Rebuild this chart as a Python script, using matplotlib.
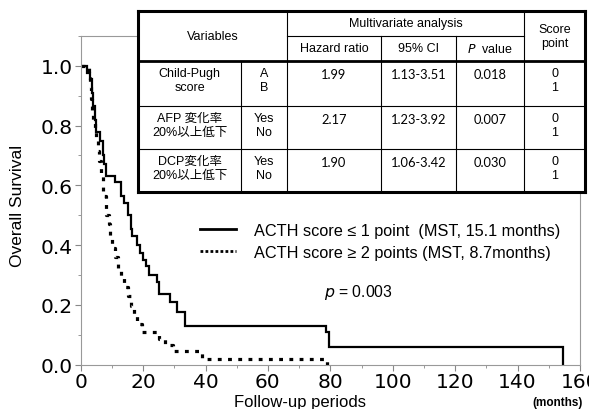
import numpy as np
import matplotlib
matplotlib.use("Agg")
import matplotlib.pyplot as plt
from matplotlib.lines import Line2D
from matplotlib.ticker import MultipleLocator

# Kaplan-Meier steps, ACTH score <= 1 point
low_times = [0, 2.0, 3.0, 3.5, 4.0, 4.5, 5.0, 6.3, 7.0, 7.5, 8.0, 11.0, 13.0, 14.0,
             15.0, 16.0, 16.5, 18.0, 19.0, 20.0, 21.0, 22.0, 24.3, 25.0, 28.6,
             30.8, 33.4, 78.5, 79.5, 154.5]
low_surv = [1.0, 0.977, 0.955, 0.91, 0.865, 0.82, 0.78, 0.75, 0.70, 0.67, 0.63,
            0.61, 0.565, 0.54, 0.50, 0.455, 0.43, 0.40, 0.375, 0.35, 0.33, 0.30,
            0.275, 0.237, 0.21, 0.175, 0.13, 0.11, 0.06, 0.0]

# Kaplan-Meier steps, ACTH score >= 2 points
high_times = [0, 2.5, 3.0, 3.3, 3.7, 4.0, 4.6, 5.0, 5.5, 6.0, 6.5, 7.0, 8.0, 9.0,
              9.5, 10.0, 11.0, 12.0, 12.8, 13.8, 15.0, 16.0, 17.0, 18.0, 19.5,
              25.0, 27.0, 29.5, 39.0, 79.0]
high_surv = [1.0, 0.96, 0.93, 0.89, 0.85, 0.815, 0.78, 0.75, 0.715, 0.68, 0.64,
             0.565, 0.50, 0.47, 0.425, 0.39, 0.36, 0.325, 0.29, 0.26, 0.23, 0.195,
             0.17, 0.135, 0.11, 0.085, 0.065, 0.045, 0.02, 0.0]

legend_labels = ["ACTH score \u2264 1 point  (MST, 15.1 months)",
                 "ACTH score \u2265 2 points (MST, 8.7months)"]

# table contents
row_vars = ["Child-Pugh\nscore", "AFP 変化率\n20%以上低下", "DCP変化率\n20%以上低下"]
row_levels = ["A\nB", "Yes\nNo", "Yes\nNo"]
hazard = ["1.99", "2.17", "1.90"]
ci95 = ["1.13-3.51", "1.23-3.92", "1.06-3.42"]
pvals = ["0.018", "0.007", "0.030"]
points = ["0\n1", "0\n1", "0\n1"]

W, H = 589, 410
fig = plt.figure(figsize=(W / 100, H / 100), dpi=100)
fig.patch.set_facecolor("white")

ax = fig.add_axes([80.7 / W, 1 - 365.6 / H, (580 - 80.7) / W, (365.6 - 37) / H])
ax.step(low_times, low_surv, where="post", color="black", lw=1.6,
        solid_joinstyle="miter")
ax.step(high_times, high_surv, where="post", color="black", lw=2.3,
        linestyle=(0, (1.2, 2.0)), dash_capstyle="butt")

ax.set_xlim(0, 160)
ax.set_ylim(0, 1.1)
ax.set_xticks(np.arange(0, 161, 20))
ax.set_yticks(np.arange(0, 1.01, 0.2))
ax.set_yticklabels([f"{v:.1f}" for v in np.arange(0, 1.01, 0.2)])
ax.xaxis.set_minor_locator(MultipleLocator(10))
ax.yaxis.set_minor_locator(MultipleLocator(0.1))
ax.tick_params(which="major", direction="out", length=4, width=0.8,
               color="#888888", labelsize=14.5, pad=1.5)
ax.tick_params(which="minor", direction="out", length=2, width=0.6, color="#888888")
for s in ax.spines.values():
    s.set_color("#999999")
    s.set_linewidth(0.8)

fig.text(18 / W, 1 - 206 / H, "Overall Survival", family="Liberation Sans",
         fontsize=12.5, rotation=90, ha="center", va="center")
fig.text(300 / W, 1 - 403 / H, "Follow-up periods", family="Liberation Sans",
         fontsize=12, ha="center", va="center")
fig.text(558 / W, 1 - 403 / H, "(months)", family="Liberation Sans",
         fontsize=8.5, weight="bold", ha="center", va="center")

# legend handles: the dotted key is drawn with finer dots than the curve
handles = [Line2D([], [], color="black", lw=2.0),
           Line2D([], [], color="black", lw=2.0, linestyle=(0, (1, 0.8)),
                  dash_capstyle="butt")]
ax.legend(handles, legend_labels, loc="upper left",
          bbox_to_anchor=(192 / W, 1 - 216 / H),
          bbox_transform=fig.transFigure, frameon=False, handlelength=2.2,
          handletextpad=1.1, labelspacing=0.4, borderpad=0,
          prop={"family": "Liberation Sans", "size": 11.7})

ax.text(78, 0.245, r"$\it{p}$ = 0.003", family="Liberation Sans", fontsize=11.3,
        ha="left", va="center")

# table drawn in pixel coordinates
tx0, tx1, ty0, ty1 = 138, 585, 12, 193
tab = fig.add_axes([tx0 / W, 1 - ty1 / H, (tx1 - tx0) / W, (ty1 - ty0) / H])
tab.set_xlim(tx0, tx1)
tab.set_ylim(ty1, ty0)
tab.set_facecolor("white")
tab.set_xticks([])
tab.set_yticks([])
for s in tab.spines.values():
    s.set_linewidth(2.2)

cols = [138, 241, 287, 381, 456, 524, 585]
rows = [12, 37, 62, 107, 150, 193]
thin = dict(color="black", lw=0.8)
tab.plot([cols[2], cols[5]], [rows[1], rows[1]], **thin)
tab.plot([tx0, tx1], [rows[2], rows[2]], color="black", lw=2.0)
tab.plot([tx0, tx1], [rows[3], rows[3]], **thin)
tab.plot([tx0, tx1], [rows[4], rows[4]], **thin)
tab.plot([cols[1], cols[1]], [rows[2], ty1], **thin)
tab.plot([cols[2], cols[2]], [ty0, ty1], **thin)
tab.plot([cols[3], cols[3]], [rows[1], ty1], **thin)
tab.plot([cols[4], cols[4]], [rows[1], ty1], **thin)
tab.plot([cols[5], cols[5]], [ty0, ty1], **thin)

fam = ["Liberation Sans", "Noto Sans CJK JP"]
fs = 9.0
num_fam = ["Lato", "DejaVu Sans"]


def cx(i):
    return (cols[i] + cols[i + 1]) / 2


tab.text((cols[0] + cols[2]) / 2, 37, "Variables", family=fam, fontsize=fs,
         ha="center", va="center")
tab.text((cols[2] + cols[5]) / 2, 24, "Multivariate analysis", family=fam,
         fontsize=fs, ha="center", va="center")
tab.text(cx(2), 49.5, "Hazard ratio", family=fam, fontsize=fs, ha="center", va="center")
tab.text(cx(3), 49.5, "95% CI", family=fam, fontsize=fs, ha="center", va="center")
tab.text(cx(4), 49.5, r"$\it{P}$  value", family=fam, fontsize=fs, ha="center",
         va="center")
tab.text(cx(5), 37, "Score\npoint", family=fam, fontsize=fs, ha="center",
         va="center", linespacing=1.15)

for i in range(3):
    ytop = rows[i + 2] + 7
    kw = dict(family=fam, fontsize=fs, ha="center", va="top", linespacing=1.2)
    nkw = dict(family=num_fam, fontsize=9.3, ha="center", va="top")
    tab.text(cx(0), ytop - 1, row_vars[i], **kw)
    tab.text(cx(1), ytop - 1, row_levels[i], **kw)
    tab.text(cx(2), ytop, hazard[i], **nkw)
    tab.text(cx(3), ytop, ci95[i], **nkw)
    tab.text(cx(4), ytop, pvals[i], **nkw)
    tab.text(cx(5), ytop - 1, points[i], **kw)

fig.savefig("out.png", dpi=100, facecolor="white")
